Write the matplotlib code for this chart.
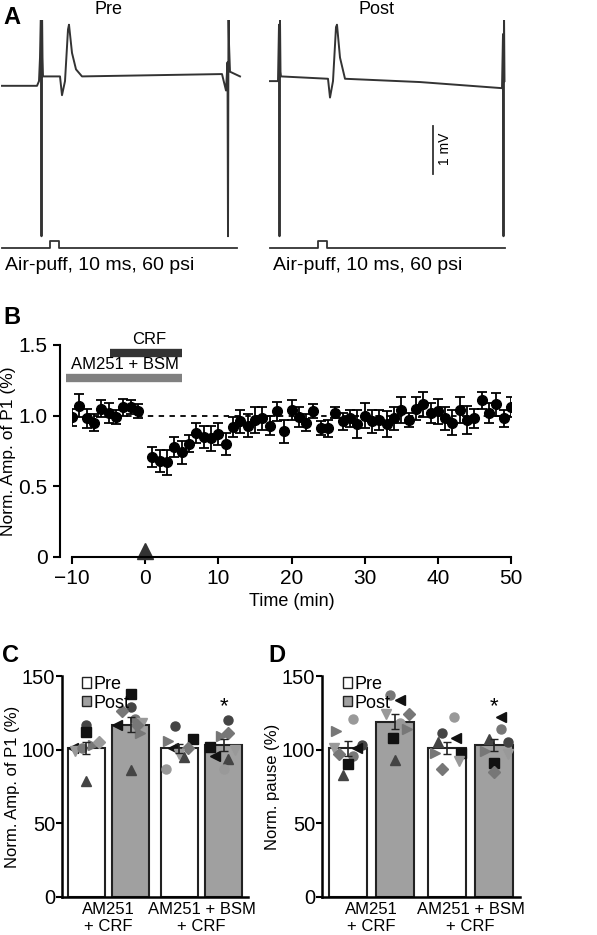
import matplotlib.pyplot as plt
import numpy as np

plt.rcParams['font.family'] = ['Liberation Sans', 'DejaVu Sans']

W, H = 597, 935
fig = plt.figure(figsize=(W / 100, H / 100), dpi=100)


def px_axes(x0, y0, x1, y1):
    """add axes from pixel box (top-left origin)"""
    return fig.add_axes([x0 / W, 1 - y1 / H, (x1 - x0) / W, (y1 - y0) / H])


# ---------------- data ----------------
# panel A trace vertices (time in a.u., mV relative to baseline)
pre_t = [0, 35, 37, 38, 39, 39.5, 40, 40.5, 41, 58, 60, 63, 66, 67, 70, 74, 80, 220, 224, 225.5, 226, 226.5, 227, 228, 238]
pre_v = [-0.1, -0.1, 0, 0.5, 1.6, -3.3, 1.6, 0.5, 0.1, 0.1, -0.3, 0, 1.1, 1.2, 0.6, 0.25, 0.1, 0.15, -0.2, 0.4, -3.3, 1.6, 0.8, 0.2, 0.1]
post_t = [0, 8, 9, 9.5, 10, 10.5, 11, 58, 60, 63, 66, 67, 70, 75, 150, 232, 233, 233.5, 234, 234.5]
post_v = [0, 0, 1.2, -3.3, 1.3, 0.2, 0.1, 0.05, -0.35, 0, 1.15, 1.2, 0.5, 0.05, -0.02, -0.15, 1.0, -3.3, 1.5, 0.0]
stim_t = [0, 48, 48, 57, 57, 235]
stim_v = [0, 0, 0.15, 0.15, 0, 0]

# panel B
time_pre = np.arange(-10, 0)
amp_pre = [0.99, 1.07, 0.98, 0.95, 1.05, 1.02, 0.99, 1.06, 1.06, 1.03]
err_pre = [0.06, 0.08, 0.07, 0.06, 0.06, 0.07, 0.05, 0.06, 0.05, 0.05]
time_post = np.arange(1, 51)
amp_post = [0.71, 0.68, 0.67, 0.78, 0.74, 0.80, 0.88, 0.85, 0.84, 0.87,
            0.80, 0.92, 0.96, 0.93, 0.97, 0.98, 0.93, 1.03, 0.89, 1.04,
            0.99, 0.95, 1.03, 0.91, 0.91, 1.02, 0.96, 0.98, 0.94, 1.00,
            0.96, 0.97, 0.94, 0.98, 1.04, 0.97, 1.05, 1.08, 1.02, 1.03,
            0.98, 0.95, 1.04, 0.97, 0.98, 1.11, 1.02, 1.08, 0.98, 1.06]
err_post = [0.07, 0.08, 0.09, 0.07, 0.08, 0.06, 0.07, 0.08, 0.09, 0.08,
            0.08, 0.07, 0.08, 0.08, 0.09, 0.08, 0.07, 0.07, 0.08, 0.07,
            0.07, 0.06, 0.05, 0.05, 0.06, 0.04, 0.06, 0.06, 0.1, 0.09,
            0.08, 0.07, 0.09, 0.08, 0.09, 0.05, 0.08, 0.09, 0.07, 0.09,
            0.08, 0.09, 0.09, 0.1, 0.07, 0.06, 0.07, 0.08, 0.06, 0.07]

groups = ['AM251\n+ CRF', 'AM251 + BSM\n+ CRF']
c_means = [101, 117, 101, 103]
c_errs = [4, 5, 3, 4]
d_means = [101, 119, 101, 103]
d_errs = [5, 5, 4, 4]

K, DG, G, LG = '#111111', '#444444', '#777777', '#999999'
# individual points: (bar index, x offset, value, marker, colour)
c_points = [
    (0, 0.0, 117, 'o', DG), (0, 0.0, 112, 's', K), (0, -0.3, 101, '<', K), (0, -0.25, 99, 'v', LG),
    (0, -0.1, 101, 'o', G), (0, 0.15, 103, '>', G), (0, 0.28, 105, 'D', LG), (0, 0.0, 79, '^', DG),
    (1, 0.0, 138, 's', K), (1, 0.0, 129, 'o', DG), (1, -0.2, 126, 'D', G), (1, 0.1, 121, 'o', G),
    (1, -0.3, 117, '<', K), (1, 0.25, 118, 'v', LG), (1, 0.15, 117, 'D', G), (1, 0.2, 111, '>', G),
    (1, 0.0, 86, '^', DG),
    (2, -0.1, 116, 'o', DG), (2, 0.3, 107, 's', K), (2, -0.25, 106, '>', G), (2, -0.15, 101, '<', K),
    (2, 0.2, 101, 'D', G), (2, 0.0, 97, 'v', LG), (2, 0.1, 95, '^', DG), (2, -0.3, 87, 'o', LG),
    (3, 0.1, 120, 'o', DG), (3, 0.1, 111, 'D', G), (3, -0.05, 109, '>', G), (3, -0.3, 102, 's', K),
    (3, 0.25, 100, 'v', LG), (3, -0.2, 96, '<', K), (3, 0.1, 94, '^', DG), (3, 0.0, 87, 'o', LG),
]
d_points = [
    (0, 0.1, 121, 'o', LG), (0, -0.25, 113, '>', G), (0, 0.3, 103, 'o', DG), (0, -0.3, 101, 'v', LG),
    (0, 0.2, 101, '<', K), (0, -0.2, 97, 'D', G), (0, 0.1, 96, 'o', G), (0, 0.0, 90, 's', K),
    (0, -0.1, 83, '^', DG),
    (1, -0.1, 137, 'o', G), (1, 0.1, 134, '<', K), (1, -0.2, 124, 'v', LG), (1, 0.3, 124, 'D', G),
    (1, 0.1, 118, 'o', LG), (1, 0.25, 114, '>', G), (1, -0.05, 108, 's', K), (1, 0.0, 93, '^', DG),
    (2, 0.15, 122, 'o', LG), (2, -0.1, 111, 'o', DG), (2, 0.2, 108, '<', K), (2, -0.2, 105, '^', DG),
    (2, 0.3, 98, 's', K), (2, -0.25, 98, '>', G), (2, 0.25, 92, 'v', LG), (2, -0.1, 87, 'D', G),
    (3, 0.15, 122, '<', K), (3, 0.15, 114, 'o', G), (3, -0.1, 107, '^', DG), (3, 0.3, 105, 'o', DG),
    (3, -0.2, 99, '>', G), (3, 0.3, 97, 'v', LG), (3, 0.0, 91, 's', K), (3, 0.0, 85, 'D', G),
]

# ---------------- panel A ----------------
# axes spans y 20..248 px: +1.3 mV at top, stimulus baseline at bottom
axA = px_axes(0, 20, 597, 248)
axA.set_xlim(0, 597)
axA.set_ylim(-3.55, 1.3)
axA.axis('off')
for x0, tt, vv, title in [(2, pre_t, pre_v, 'Pre'), (270, post_t, post_v, 'Post')]:
    axA.plot(np.array(tt) + x0, vv, color='#333333', lw=1.4)
    axA.plot(np.array(stim_t) + x0, np.array(stim_v) - 3.55, color='#333333', lw=1.3, clip_on=False)
    fig.text((x0 + 3) / W, 1 - 266 / H, 'Air-puff, 10 ms, 60 psi', fontsize=14, va='center')
    fig.text((x0 + 106) / W, 1 - 10 / H, title, fontsize=13, ha='center', va='center')
axA.plot([433, 433], [-0.95, -1.97], color='#333333', lw=1.3)
axA.text(438, -1.45, '1 mV', rotation=90, fontsize=10, va='center', ha='left')
fig.text(3 / W, 1 - 18 / H, 'A', fontsize=17, fontweight='bold', va='center')

# ---------------- panel B ----------------
axB = px_axes(72, 345, 511, 557)
axB.set_xlim(-10, 50)
axB.set_ylim(0, 1.5)
for tt, aa, ee in [(time_pre, amp_pre, err_pre), (time_post, amp_post, err_post)]:
    axB.errorbar(tt, aa, yerr=ee, fmt='o', color='black', ms=7,
                 capsize=3.5, elinewidth=1.3, capthick=1.3)
axB.plot([-10, 50], [1, 1], ls=(0, (3, 3)), color='black', lw=1.3, zorder=0)
axB.plot([-4.8, 5], [1.44, 1.44], color='#333333', lw=6, solid_capstyle='butt', clip_on=False)
axB.text(0.5, 1.485, 'CRF', ha='center', va='bottom', fontsize=12)
axB.plot([-10.8, 5], [1.27, 1.27], color='#808080', lw=6, solid_capstyle='butt', clip_on=False)
axB.text(-2.7, 1.31, 'AM251 + BSM', ha='center', va='bottom', fontsize=12)
axB.plot([0], [0.04], marker='^', ms=11, color='#333333', clip_on=False)
axB.spines[['top', 'right']].set_visible(False)
axB.spines['left'].set_position(('outward', 9))
for s in ['left', 'bottom']:
    axB.spines[s].set_linewidth(1.5)
axB.set_xticks([-10, 0, 10, 20, 30, 40, 50])
axB.set_yticks([0, 0.5, 1.0, 1.5])
axB.set_yticklabels(['0', '0.5', '1.0', '1.5'])
axB.tick_params(labelsize=15, width=1.5, length=5)
axB.set_xlabel('Time (min)', fontsize=13)
axB.set_ylabel('Norm. Amp. of P1 (%)', fontsize=12.5, labelpad=2)
fig.text(3 / W, 1 - 318 / H, 'B', fontsize=17, fontweight='bold', va='center')


# ---------------- panels C, D ----------------
def bar_panel(box, means, errs, points, ylabel, letter, lx):
    ax = px_axes(*box)
    xs = [0, 1, 2.1, 3.1]
    cols = ['white', '#a0a0a0', 'white', '#a0a0a0']
    ax.bar(xs, means, width=0.82, color=cols, edgecolor='#222222', lw=1.5, zorder=1)
    ax.errorbar(xs, means, yerr=errs, fmt='none', ecolor='#222222', capsize=3, lw=1.2, zorder=3)
    for i, dx, v, m, c in points:
        ax.plot(xs[i] + dx, v, marker=m, color=c, ms=6.5, ls='none', zorder=2)
    ax.text(xs[3], 122, '*', ha='center', va='bottom', fontsize=16)
    ax.set_xlim(-0.55, 3.65)
    ax.set_ylim(0, 150)
    ax.set_yticks([0, 50, 100, 150])
    ax.set_xticks([0.5, 2.6])
    ax.set_xticklabels(groups, fontsize=12)
    ax.tick_params(axis='x', length=0)
    ax.tick_params(axis='y', labelsize=14.5, width=1.5, length=4, pad=1)
    ax.spines[['top', 'right']].set_visible(False)
    for s in ['left', 'bottom']:
        ax.spines[s].set_linewidth(1.8)
    ax.set_ylabel(ylabel, fontsize=12, labelpad=1)
    ax.bar([0], [0], color='white', edgecolor='#222222', label='Pre')
    ax.bar([0], [0], color='#a0a0a0', edgecolor='#222222', label='Post')
    ax.legend(loc='upper left', bbox_to_anchor=(0.05, 1.05), frameon=False, fontsize=13,
              handlelength=0.5, handleheight=0.5, handletextpad=0.15, labelspacing=0.1, borderpad=0.1)
    fig.text(lx / W, 1 - 655 / H, letter, fontsize=17, fontweight='bold', va='center')
    return ax


bar_panel((62, 676, 248, 897), c_means, c_errs, c_points, 'Norm. Amp. of P1 (%)', 'C', 2)
bar_panel((322, 676, 520, 897), d_means, d_errs, d_points, 'Norm. pause (%)', 'D', 268)

fig.savefig('out.png', dpi=100)
